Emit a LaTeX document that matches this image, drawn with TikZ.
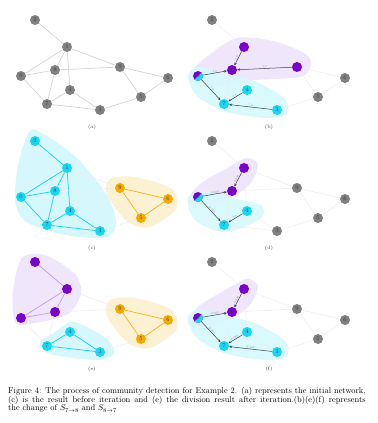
\documentclass[tikz,border=0pt]{standalone}
\usepackage{amsmath,amssymb}
\usepackage{xcolor}
\usepackage{tikz}
\usetikzlibrary{arrows.meta, positioning}
\definecolor{nodegray}{RGB}{128,128,128}
\definecolor{nodecyan}{RGB}{25,215,242}
\definecolor{nodepurple}{RGB}{125,0,210}
\definecolor{nodeorange}{RGB}{245,170,0}
\definecolor{hullcyan}{RGB}{214,248,252}
\definecolor{hullpurple}{RGB}{240,230,251}
\definecolor{hullorange}{RGB}{253,241,212}
\pgfdeclarelayer{hulls}
\pgfdeclarelayer{links}
\pgfsetlayers{hulls,links,main}

% positions of the example network (index = node label)
\newcommand{\netx}{{21,67,35,100,70,141,168,47,55,120}}
\newcommand{\nety}{{76,47,20,110,90,97,78,104,70,67}}

\newcommand{\placenodes}[2]{%
  \foreach \n/\c in {#2} {
    \pgfmathsetmacro{\xx}{\netx[\n]}
    \pgfmathsetmacro{\yy}{\nety[\n]}
    \node[vertex, fill=\c] (#1\n) at (\xx,\yy) {\n};
  }}
\newcommand{\placelinks}[3]{%
  \begin{pgfonlayer}{links}
  \foreach \s/\t in {#3} \draw[#2] (#1\s) -- (#1\t);
  \end{pgfonlayer}}

\begin{document}
\begin{tikzpicture}[
    x=1.2pt, y=-1.2pt,
    vertex/.style={circle, inner sep=0pt, minimum size=12pt, text=black!75, font=\fontsize{7}{7}\selectfont},
    splitnode/.style={vertex, fill=nodepurple, path picture={\fill[nodecyan] (path picture bounding box.south west) -- (path picture bounding box.north east) -- (path picture bounding box.south east) -- cycle;}},
    link/.style={draw=black!16, line width=0.9pt},
    faint/.style={draw=black!7, line width=0.6pt},
    cyanlink/.style={draw=nodecyan, line width=0.9pt},
    orangelink/.style={draw=nodeorange!85, line width=0.9pt},
    purplelink/.style={draw=nodepurple!40, line width=0.9pt},
    flow/.style={-{Stealth[length=3.5pt,width=3pt]}, draw=black!75, line width=0.6pt},
    wlabel/.style={midway, sloped, above, inner sep=0.6pt, text=black!55, font=\fontsize{3}{3}\selectfont},
    sublabel/.style={font=\fontsize{6}{7}\selectfont, text=black!75},
    caption/.style={anchor=north west, text width=429pt, align=justify, font=\fontsize{10.1}{10.4}\selectfont, inner sep=0pt}
]
\useasboundingbox (0,0) rectangle (378,423);

% (a) initial network
\placenodes{a}{0/nodegray,1/nodegray,2/nodegray,3/nodegray,4/nodegray,5/nodegray,6/nodegray,7/nodegray,8/nodegray,9/nodegray}
\placelinks{a}{link}{1/2,0/1,1/8,1/4,1/9,0/8,0/7,7/8,8/9,6/9,5/9,5/6,4/7,3/4,3/7,3/5}
\node[sublabel] (capa) at (92,127) {(a)};

% (b) change of S, all weights 1.0
\begin{scope}[shift={(177,0)}]
\begin{pgfonlayer}{hulls}
\fill[hullpurple] plot[smooth cycle] coordinates {(12,76) (28,58) (60,38) (100,42) (132,57) (126,76) (80,80) (30,87)};
\fill[hullcyan, opacity=0.9] plot[smooth cycle] coordinates {(11,76) (22,67) (50,74) (80,82) (108,99) (110,114) (90,118) (50,112) (20,96)};
\end{pgfonlayer}
\placenodes{b}{1/nodepurple,8/nodepurple,9/nodepurple,3/nodecyan,4/nodecyan,7/nodecyan,2/nodegray,5/nodegray,6/nodegray}
\node[splitnode] (b0) at (21,76) {0};
\placelinks{b}{faint}{1/2,0/1,1/4,1/9,6/9,5/9,5/6,3/4,3/5,7/8}
\draw[flow] (b1) -- node[wlabel] {1.0} (b8);
\draw[flow] (b9) -- node[wlabel] {1.0} (b8);
\draw[flow] (b0) -- node[wlabel] {1.0} (b8);
\draw[flow] (b0) -- node[wlabel] {1.0} (b7);
\draw[flow] (b4) -- node[wlabel] {1.0} (b7);
\draw[flow] (b3) -- node[wlabel] {1.0} (b7);
\node[sublabel] (capb) at (92,127) {(b)};
\end{scope}

% (c) before iteration
\begin{scope}[shift={(0,121)}]
\begin{pgfonlayer}{hulls}
\fill[hullcyan] plot[smooth cycle] coordinates {(30,10) (45,14) (78,38) (108,76) (116,104) (104,117) (60,113) (25,100) (15,78) (19,40)};
\fill[hullorange] plot[smooth cycle] coordinates {(110,58) (135,56) (172,68) (176,88) (150,106) (128,101) (107,74)};
\end{pgfonlayer}
\placenodes{c}{0/nodecyan,1/nodecyan,2/nodecyan,3/nodecyan,4/nodecyan,7/nodecyan,8/nodecyan,5/nodeorange,6/nodeorange,9/nodeorange}
\placelinks{c}{cyanlink}{1/2,0/1,1/8,1/4,0/8,0/7,7/8,4/7,3/4,3/7}
\placelinks{c}{orangelink}{6/9,5/9,5/6}
\placelinks{c}{faint}{1/9,8/9,3/5}
\node[sublabel] (capc) at (92,127) {(c)};
\end{scope}

% (d)
\begin{scope}[shift={(177,121)}]
\begin{pgfonlayer}{hulls}
\fill[hullpurple] plot[smooth cycle] coordinates {(11,80) (22,64) (50,47) (70,37) (81,44) (72,64) (48,80) (22,88)};
\fill[hullcyan, opacity=0.9] plot[smooth cycle] coordinates {(11,77) (30,70) (60,78) (84,84) (85,96) (62,108) (40,110) (17,98)};
\end{pgfonlayer}
\placenodes{d}{1/nodepurple,8/nodepurple,4/nodecyan,7/nodecyan,2/nodegray,3/nodegray,5/nodegray,6/nodegray,9/nodegray}
\node[splitnode] (d0) at (21,76) {0};
\placelinks{d}{faint}{1/2,0/1,1/4,1/9,8/9,6/9,5/9,5/6,3/4,3/7,3/5,7/8}
\draw[flow] (d1) -- node[wlabel] {0.333} (d8);
\draw[flow] (d0) -- node[wlabel] {0.429} (d8);
\draw[flow] (d0) -- node[wlabel] {0.333} (d7);
\draw[flow] (d4) -- node[wlabel] {1.0} (d7);
\node[sublabel] (capd) at (92,127) {(d)};
\end{scope}

% (e) after iteration
\begin{scope}[shift={(0,242)}]
\begin{pgfonlayer}{hulls}
\fill[hullpurple] plot[smooth cycle] coordinates {(22,16) (45,13) (75,32) (81,52) (68,72) (40,80) (16,81) (13,50)};
\fill[hullcyan] plot[smooth cycle] coordinates {(40,100) (55,90) (70,80) (85,84) (108,98) (114,112) (96,118) (50,112)};
\fill[hullorange] plot[smooth cycle] coordinates {(110,58) (135,56) (172,68) (176,88) (150,106) (128,101) (107,74)};
\end{pgfonlayer}
\placenodes{e}{0/nodepurple,1/nodepurple,2/nodepurple,8/nodepurple,3/nodecyan,4/nodecyan,7/nodecyan,5/nodeorange,6/nodeorange,9/nodeorange}
\placelinks{e}{purplelink}{1/2,0/1,1/8,0/8}
\placelinks{e}{cyanlink}{4/7,3/4,3/7}
\placelinks{e}{orangelink}{6/9,5/9,5/6}
\placelinks{e}{faint}{1/4,1/9,8/9,0/7,7/8,3/5}
\node[sublabel] (cape) at (92,127) {(e)};
\end{scope}

% (f)
\begin{scope}[shift={(177,242)}]
\begin{pgfonlayer}{hulls}
\fill[hullpurple] plot[smooth cycle] coordinates {(11,80) (22,64) (50,47) (70,37) (81,44) (72,64) (48,80) (22,88)};
\fill[hullcyan, opacity=0.9] plot[smooth cycle] coordinates {(11,76) (22,67) (50,74) (80,82) (108,99) (110,114) (90,118) (50,112) (20,96)};
\end{pgfonlayer}
\placenodes{f}{1/nodepurple,8/nodepurple,3/nodecyan,4/nodecyan,7/nodecyan,2/nodegray,5/nodegray,6/nodegray,9/nodegray}
\node[splitnode] (f0) at (21,76) {0};
\placelinks{f}{faint}{1/2,0/1,1/4,1/9,8/9,6/9,5/9,5/6,3/4,3/5,7/8}
\draw[flow] (f1) -- node[wlabel] {0.333} (f8);
\draw[flow] (f0) -- node[wlabel] {0.571} (f8);
\draw[flow] (f0) -- node[wlabel] {0.286} (f7);
\draw[flow] (f4) -- node[wlabel] {0.667} (f7);
\draw[flow] (f3) -- node[wlabel] {0.467} (f7);
\node[sublabel] (capf) at (92,127) {(f)};
\end{scope}

% Caption
\node[caption] (cap) at (8,387) {Figure 4: The process of community detection for Example 2. (a) represents the initial network, (c) is the result before iteration and (e) the division result after iteration.(b)(e)(f) represents\linebreak the change of $S_{7\to8}$ and $S_{8\to7}$};
\end{tikzpicture}
\end{document}
